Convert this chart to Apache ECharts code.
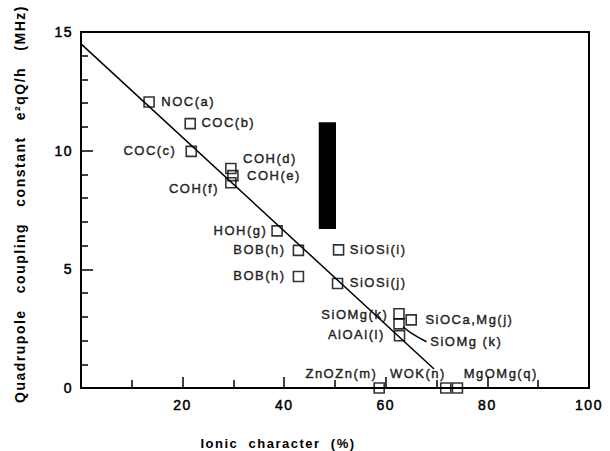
<!DOCTYPE html>
<html>
<head>
<meta charset="utf-8">
<script src="https://cdn.jsdelivr.net/npm/echarts@6/dist/echarts.min.js"></script>
<style>
  html, body { margin: 0; padding: 0; background: #fff; }
  #chart { width: 610px; height: 451px; }
  #chart svg text { letter-spacing: 1.5px; white-space: pre; }
</style>
</head>
<body>
<div id="chart"></div>
<script>
// Bond types and their measured values
const bondNames = ['NOC(a)', 'COC(b)', 'COC(c)', 'COH(d)', 'COH(e)', 'COH(f)', 'HOH(g)', 'BOB(h)', 'BOB(h)',
  'SiOSi(i)', 'SiOSi(j)', 'SiOMg(k)', 'SiOCa,Mg(j)', 'SiOMg (k)', 'AlOAl(l)', 'ZnOZn(m)', 'WOK(n)', 'MgOMg(q)'];
const ionicCharacter = [13.4, 21.5, 21.7, 29.5, 29.9, 29.5, 38.6, 42.8, 42.8,
  50.7, 50.5, 62.6, 65.0, 62.6, 62.7, 58.7, 71.8, 74.1];
const couplingConstant = [12.05, 11.14, 9.97, 9.25, 8.95, 8.65, 6.62, 5.8, 4.7,
  5.82, 4.4, 3.13, 2.87, 2.7, 2.2, 0, 0, 0];

// Fitted straight line
const fitLineX = [0, 69.5];
const fitLineY = [14.5, 0.8];

// Leader from the lower SiOMg square to its label
const leaderX = [63.4, 65.1, 68.0];
const leaderY = [2.58, 2.30, 1.95];

// Shaded band
const bandX = [46.8, 50.2];
const bandY = [6.7, 11.2];

// Axis settings
const xRange = [0, 100];
const yRange = [0, 15];

// Label placement: pixel offset from marker centre and text alignment
const labelPlacement = [
  [13, 0, 'left'], [12, 0, 'left'], [-14, 0, 'right'], [13, -9, 'left'], [15, 1, 'left'],
  [-11, 7, 'right'], [-9, 0, 'right'], [-12, 0, 'right'], [-12, 0, 'right'],
  [12, 0, 'left'], [13, 0, 'left'], [-10, 2, 'right'], [15, 0, 'left'], [32, 18, 'left'],
  [-14, 0, 'right'], [-1, -14, 'right'], [1, -14, 'right'], [7, -14, 'left']
];

const FONT = 'Liberation Sans, Arial, sans-serif';
const HALF = 5; // half of marker size
const INK = { textBorderColor: '#000', textBorderWidth: 0.5 };

const points = bondNames.map((name, i) => {
  const p = labelPlacement[i];
  return {
    name: name,
    value: [ionicCharacter[i], couplingConstant[i]],
    label: { position: [HALF + p[0], HALF + p[1]], align: p[2], verticalAlign: 'middle' }
  };
});

const chart = echarts.init(document.getElementById('chart'), null, { renderer: 'svg' });

chart.setOption({
  backgroundColor: '#fff',
  animation: false,
  grid: { left: 81, right: 21, top: 32, bottom: 63, show: true, borderColor: '#000', borderWidth: 2 },
  xAxis: {
    type: 'value', min: xRange[0], max: xRange[1], interval: 20,
    axisLine: { lineStyle: { color: '#000', width: 2 } },
    axisTick: { inside: true, length: 11, lineStyle: { color: '#000', width: 1.5 } },
    minorTick: { show: true, splitNumber: 2, length: 8, lineStyle: { color: '#000', width: 1.5 } },
    splitLine: { show: false },
    axisLabel: Object.assign({ color: '#000', fontSize: 14, fontFamily: FONT, margin: 10,
      formatter: v => (v === 0 ? '' : String(v)) }, INK)
  },
  yAxis: {
    type: 'value', min: yRange[0], max: yRange[1], interval: 5,
    axisLine: { lineStyle: { color: '#000', width: 2 } },
    axisTick: { inside: true, length: 12, lineStyle: { color: '#000', width: 1.5 } },
    minorTick: { show: true, splitNumber: 5, length: 7, lineStyle: { color: '#000', width: 1.5 } },
    splitLine: { show: false },
    axisLabel: Object.assign({ color: '#000', fontSize: 14, fontFamily: FONT, margin: 8 }, INK)
  },
  series: [
    {
      type: 'line', silent: true, symbol: 'none', z: 2,
      data: fitLineX.map((x, i) => [x, fitLineY[i]]),
      lineStyle: { color: '#000', width: 1.5 },
      markArea: {
        silent: true,
        itemStyle: { color: '#000', opacity: 1 },
        data: [[{ coord: [bandX[0], bandY[1]] }, { coord: [bandX[1], bandY[0]] }]]
      }
    },
    {
      type: 'line', silent: true, symbol: 'none', smooth: true, z: 2,
      data: leaderX.map((x, i) => [x, leaderY[i]]),
      lineStyle: { color: '#000', width: 1.5 }
    },
    {
      type: 'scatter', z: 3,
      symbol: 'rect', symbolSize: 10,
      itemStyle: { color: 'rgba(0,0,0,0)', borderColor: '#000', borderWidth: 1.6 },
      label: Object.assign({ show: true, formatter: '{b}', color: '#000', fontSize: 13, fontFamily: FONT }, INK),
      data: points
    }
  ],
  graphic: [
    {
      type: 'text', x: 278, y: 443,
      style: { text: 'Ionic  character  (%)', textAlign: 'center', textVerticalAlign: 'middle',
        font: 'bold 13px ' + FONT, fill: '#000' }
    },
    {
      type: 'text', x: 20, y: 204, rotation: Math.PI / 2,
      style: { text: 'Quadrupole   coupling   constant   e²qQ/h   (MHz)', textAlign: 'center',
        textVerticalAlign: 'middle', font: 'bold 14px ' + FONT, fill: '#000' }
    }
  ]
});
</script>
</body>
</html>
